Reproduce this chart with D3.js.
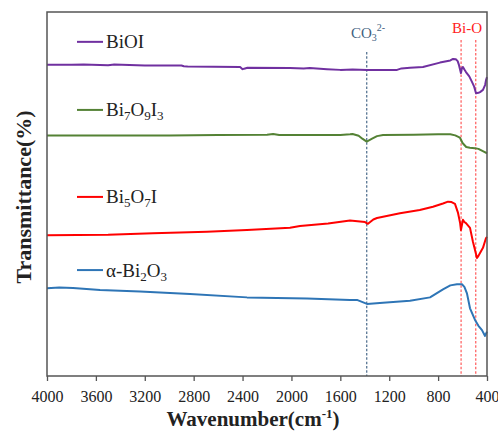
<!DOCTYPE html>
<html>
<head>
<meta charset="utf-8">
<script src="https://cdn.jsdelivr.net/npm/d3@7"></script>
<style>
  html, body { margin: 0; padding: 0; background: #fff; }
  svg { display: block; }
</style>
</head>
<body>
<svg id="chart" width="498" height="432"></svg>
<script>
// ---- Data (wavenumber in cm-1, transmittance in arbitrary offset % units) ----
const xTicks = [4000, 3600, 3200, 2800, 2400, 2000, 1600, 1200, 800, 400];

const biOIWave = [4000, 3800, 3700, 3500, 3450, 3200, 2900, 2880, 2850, 2420, 2400, 2380, 2360, 2012, 1900, 1850, 1709, 1600, 1500, 1382, 1136, 1100, 1030, 924, 785, 700, 678, 655, 640, 629, 613, 605, 597, 585, 572, 545, 523, 505, 490, 470, 457, 433, 415, 408, 400];
const biOIVal  = [85.5, 85.5, 85.6, 85.4, 85.6, 85.3, 85.3, 85.1, 85.0, 84.9, 84.3, 84.5, 84.7, 84.6, 84.5, 84.6, 84.3, 84.1, 84.2, 84.1, 84.1, 84.5, 84.7, 84.9, 86.1, 86.7, 87.1, 87.0, 86.5, 85.4, 83.2, 84.6, 84.9, 84.2, 83.5, 82.3, 80.8, 79.5, 77.7, 77.8, 78.0, 78.6, 80.0, 81.3, 82.1];

const bi7Wave = [4000, 3600, 3000, 2600, 2200, 2150, 2100, 1600, 1520, 1500, 1450, 1420, 1384, 1340, 1300, 1250, 1000, 800, 700, 660, 630, 620, 600, 570, 540, 500, 470, 430, 400];
const bi7Val  = [66.1, 66.1, 66.1, 66.2, 66.3, 66.5, 66.2, 66.2, 66.4, 66.5, 66.0, 65.2, 64.4, 65.2, 65.9, 66.2, 66.3, 66.4, 66.4, 66.1, 65.6, 65.4, 64.0, 62.9, 62.7, 62.6, 62.4, 61.7, 61.2];

const bi5Wave = [4000, 3500, 3133, 2691, 2364, 2012, 1930, 1700, 1521, 1398, 1374, 1330, 1300, 1112, 950, 842, 760, 719, 690, 662, 637, 620, 613, 597, 585, 572, 539, 515, 482, 470, 457, 433, 408, 400];
const bi5Val  = [38.7, 38.8, 39.2, 39.6, 40.1, 40.7, 41.2, 41.9, 42.7, 42.3, 41.8, 43.0, 43.4, 44.7, 45.6, 46.5, 47.4, 47.9, 47.8, 47.3, 44.8, 42.0, 40.1, 42.9, 42.3, 42.0, 40.7, 36.9, 32.4, 33.0, 33.8, 35.2, 37.9, 38.2];

const bi2Wave = [4000, 3900, 3787, 3566, 3239, 2830, 2364, 1873, 1521, 1464, 1382, 1251, 1030, 866, 760, 700, 646, 605, 585, 564, 539, 498, 470, 441, 416, 400];
const bi2Val  = [24.1, 24.3, 24.2, 23.6, 23.2, 22.5, 21.6, 21.3, 20.9, 20.9, 19.8, 20.1, 20.7, 21.6, 23.8, 24.9, 25.2, 25.2, 24.5, 22.7, 18.6, 15.4, 13.8, 12.6, 11.0, 12.2];

const seriesNames  = ["BiOI", "Bi7O9I3", "Bi5O7I", "α-Bi2O3"];
const seriesColors = ["#7030a0", "#548235", "#ff0000", "#2e75b6"];
const legendVals   = [91.8, 73.1, 49.2, 29.1];

const markerWaves = [1384, 612, 492];
const markerTops  = [89.0, 92.3, 92.3];
const markerColors = ["#4a6a8a", "#ff5a5a", "#ff5a5a"];

// ---- Layout ----
const svg = d3.select("#chart");
const L = 47, R = 487, T = 12, B = 376;
const x = d3.scaleLinear().domain([4000, 400]).range([L, R]);
const y = d3.scaleLinear().domain([0, 100]).range([B, T]);
const serif = "'Liberation Serif', 'DejaVu Serif', serif";

// marker lines (behind curves)
markerWaves.forEach((w, i) => {
  svg.append("line")
    .attr("x1", x(w)).attr("x2", x(w))
    .attr("y1", y(markerTops[i])).attr("y2", B)
    .attr("stroke", markerColors[i])
    .attr("stroke-width", 1.2)
    .attr("stroke-dasharray", "2.5,1.8");
});

// curves
const line = d3.line().x(d => x(d[0])).y(d => y(d[1]));
const waves = [biOIWave, bi7Wave, bi5Wave, bi2Wave];
const vals = [biOIVal, bi7Val, bi5Val, bi2Val];
waves.forEach((w, i) => {
  const pts = w.map((d, j) => [d, vals[i][j]]);
  svg.append("path")
    .datum(pts)
    .attr("d", line)
    .attr("fill", "none")
    .attr("stroke", seriesColors[i])
    .attr("stroke-width", 2)
    .attr("stroke-linejoin", "round");
});

// frame
svg.append("rect")
  .attr("x", L).attr("y", T)
  .attr("width", R - L).attr("height", B - T)
  .attr("fill", "none")
  .attr("stroke", "#555")
  .attr("stroke-width", 1.5);

// x axis
const xAxis = d3.axisBottom(x)
  .tickValues(xTicks)
  .tickSize(5)
  .tickFormat(d3.format("d"));
const gx = svg.append("g").attr("transform", `translate(0,${B})`).call(xAxis);
gx.select(".domain").remove();
gx.selectAll(".tick line").attr("stroke", "#555").attr("stroke-width", 1.3);
gx.selectAll(".tick text")
  .attr("y", 26).attr("dy", 0)
  .attr("fill", "#222")
  .style("font-family", serif)
  .style("font-size", "16px");

// axis titles
const xt = svg.append("text")
  .attr("x", 253).attr("y", 426)
  .attr("text-anchor", "middle")
  .style("font-family", serif)
  .style("font-size", "21px")
  .style("font-weight", "bold")
  .attr("fill", "#222");
xt.append("tspan").text("Wavenumber(cm");
xt.append("tspan").attr("dy", -8).style("font-size", "13px").text("-1");
xt.append("tspan").attr("dy", 8).text(")");

svg.append("text")
  .attr("transform", "translate(31,197) rotate(-90)")
  .attr("text-anchor", "middle")
  .style("font-family", serif)
  .style("font-size", "22px")
  .style("font-weight", "bold")
  .attr("fill", "#222")
  .text("Transmittance(%)");

// legend labels with sub/superscripts
function richText(sel, parts) {
  parts.forEach(p => {
    const t = sel.append("tspan").text(p.t);
    if (p.sub) t.attr("dy", 4).style("font-size", "13px");
    else if (p.sup) t.attr("dy", -7).style("font-size", "11px");
    if (p.back) t.attr("dy", p.back);
  });
}
const legendParts = [
  [{t: "BiOI"}],
  [{t: "Bi"}, {t: "7", sub: true}, {t: "O", back: -4}, {t: "9", sub: true}, {t: "I", back: -4}, {t: "3", sub: true}],
  [{t: "Bi"}, {t: "5", sub: true}, {t: "O", back: -4}, {t: "7", sub: true}, {t: "I", back: -4}],
  [{t: "α-Bi"}, {t: "2", sub: true}, {t: "O", back: -4}, {t: "3", sub: true}]
];
seriesNames.forEach((n, i) => {
  const ly = y(legendVals[i]);
  svg.append("line")
    .attr("x1", 77).attr("x2", 103)
    .attr("y1", ly).attr("y2", ly)
    .attr("stroke", seriesColors[i]).attr("stroke-width", 2);
  const t = svg.append("text")
    .attr("x", 106).attr("y", ly + 6.5)
    .style("font-family", serif)
    .style("font-size", "19px")
    .attr("fill", "#222");
  richText(t, legendParts[i]);
});

// annotation labels
const co = svg.append("text")
  .attr("x", 351).attr("y", 38)
  .style("font-family", serif)
  .style("font-size", "15px")
  .attr("fill", "#41617f");
co.append("tspan").text("CO");
co.append("tspan").attr("dy", 3).style("font-size", "10px").text("3");
co.append("tspan").attr("dy", -10).style("font-size", "10px").text("2-");

svg.append("text")
  .attr("x", 467).attr("y", 33)
  .attr("text-anchor", "middle")
  .style("font-family", serif)
  .style("font-size", "15px")
  .attr("fill", "#ff2020")
  .text("Bi-O");
</script>
</body>
</html>
